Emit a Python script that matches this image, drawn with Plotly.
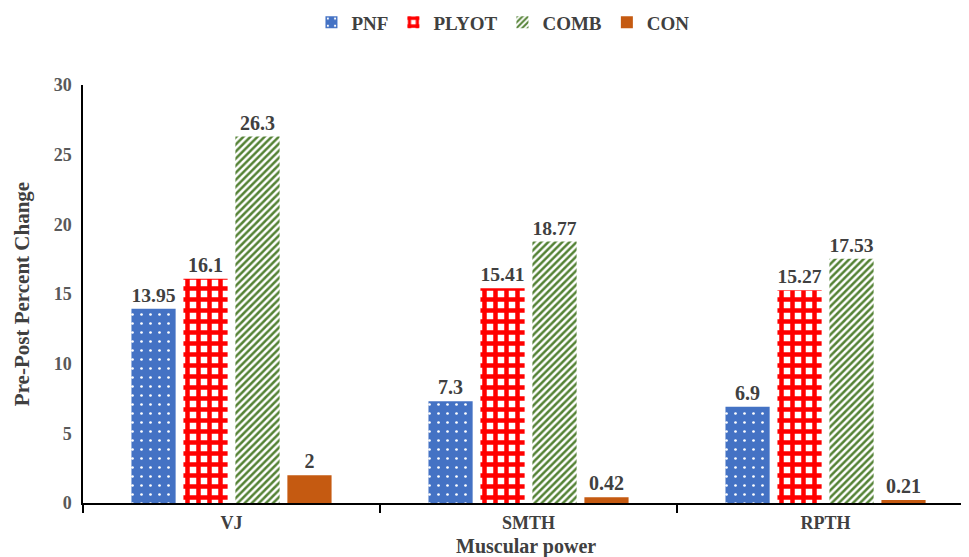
import plotly.graph_objects as go

categories = ["VJ", "SMTH", "RPTH"]
series_names = ["PNF", "PLYOT", "COMB", "CON"]
pnf = [13.95, 7.3, 6.9]
plyot = [16.1, 15.41, 15.27]
comb = [26.3, 18.77, 17.53]
con = [2, 0.42, 0.21]
y_ticks = [0, 5, 10, 15, 20, 25, 30]

FONT = "Times New Roman"
values = [pnf, plyot, comb, con]
patterns = [
    dict(shape=".", fgcolor="white", bgcolor="#4472C4", size=9, solidity=0.07, fillmode="replace"),
    dict(shape="+", fgcolor="#FF0000", bgcolor="white", size=11, solidity=0.65, fillmode="replace"),
    dict(shape="/", fgcolor="#548235", bgcolor="white", size=5, solidity=0.5, fillmode="replace"),
    None,
]
colors = ["#4472C4", "#FF0000", "#548235", "#C55A11"]

fig = go.Figure()
for name, vals, pat, col in zip(series_names, values, patterns, colors):
    marker = dict(color=col if pat is None else "white", line=dict(width=0))
    if pat is not None:
        marker["pattern"] = pat
    fig.add_trace(go.Bar(
        name=name, x=categories, y=vals, marker=marker,
        text=[f"{v:g}" for v in vals], textposition="outside",
        textfont=dict(family=FONT, size=20, color="#404040", weight="bold"),
        cliponaxis=False,
    ))

fig.update_layout(
    width=961, height=549,
    margin=dict(l=75, r=0, t=77, b=54, autoexpand=False),
    paper_bgcolor="white", plot_bgcolor="white",
    barmode="group", bargap=0.30, bargroupgap=0.15,
    font=dict(family=FONT, color="#404040"),
    legend=dict(orientation="h", x=0.474, xanchor="center", y=1.15, yanchor="middle",
                font=dict(family=FONT, size=19, color="#404040", weight="bold"), itemwidth=30,
                traceorder="normal"),
    xaxis=dict(
        range=[-0.5, 2.483], showline=True, linecolor="black", linewidth=1.5,
        ticks="outside", tickson="boundaries", ticklen=8, tickcolor="black", tickwidth=1.5,
        tickfont=dict(family=FONT, size=18, color="#404040", weight="bold"),
        ticklabelstandoff=3,
        showgrid=False, automargin=False,
    ),
    yaxis=dict(
        range=[0, 30], tickvals=y_ticks, showline=True, linecolor="black", linewidth=1.5,
        ticks="", showgrid=False, zeroline=False, automargin=False,
        tickfont=dict(family=FONT, size=18, color="#595959", weight="bold"),
        ticklabelstandoff=6,
        title=dict(text="Pre-Post Percent Change", font=dict(family=FONT, size=21, color="#404040", weight="bold"), standoff=18),
    ),
    annotations=[dict(
        text="Muscular power", xref="paper", yref="paper", x=0.5, y=-0.103,
        xanchor="center", yanchor="middle", showarrow=False,
        font=dict(family=FONT, size=20, color="#404040", weight="bold"),
    )],
)

fig.write_html("out.html")
